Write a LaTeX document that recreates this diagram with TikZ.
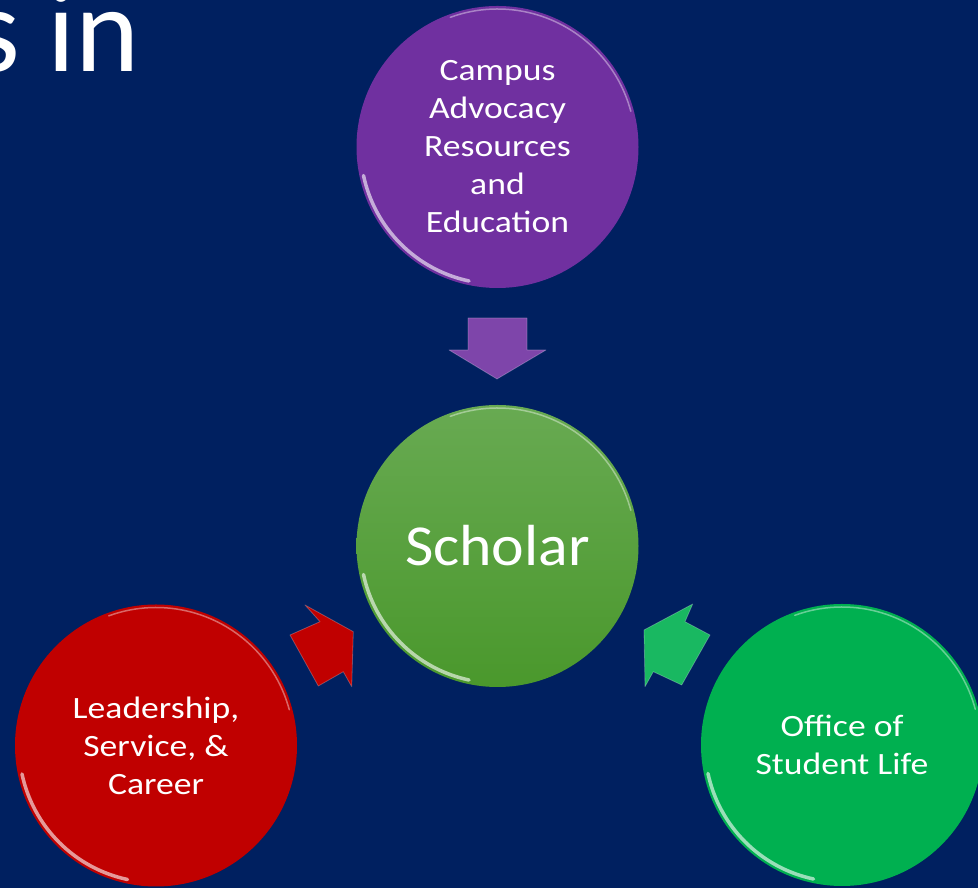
\documentclass[tikz,border=0pt]{standalone}
\usepackage{fontspec}
\setmainfont{Carlito}
\newfontfamily\labelfamily{Carlito}[FakeStretch=1.15]
\newfontfamily\scholarfamily{Carlito}[FakeStretch=1.065]
\usetikzlibrary{
	positioning				% relative placement
	, calc					% rim arcs round the circles
	, backgrounds
}

\definecolor{slidebg}{RGB}{0,32,96}
\definecolor{advocacy}{RGB}{112,48,160}
\definecolor{leadership}{RGB}{192,0,0}
\definecolor{studentlife}{RGB}{0,176,80}
\definecolor{scholartop}{RGB}{104,170,82}
\definecolor{scholarbot}{RGB}{74,152,44}

\begin{document}
\begin{tikzpicture}[
		x=1pt, y=1pt
		, bubble/.style={circle, minimum size=282pt, inner sep=0pt, text=white, align=center,
			font=\labelfamily\fontsize{31}{38}\selectfont}
		, rim/.style={line width=3.5pt, white, opacity=0.6, line cap=round}
		, thinrim/.style={line width=1.5pt, white, opacity=0.4, line cap=round}
		, blockarrow/.style={draw=white, draw opacity=0.25, line width=0.8pt, line join=round}
	]
	
	% Slide background and the cut title
	\useasboundingbox (0,0) rectangle (978,888);
	\fill[slidebg] (0,0) rectangle (978,888);
	\clip (0,0) rectangle (978,888);
	\node[anchor=base east, inner sep=0pt, text=white, font=\fontsize{122}{130}\selectfont] (title) at (140,816) {s in};
	
	% Draw the central scholar circle
	\node[bubble, top color=scholartop, bottom color=scholarbot, font=\scholarfamily\fontsize{58}{64}\selectfont] (scholar) at (497.5,342) {Scholar};
	
	% Draw the three offices around it
	\node[bubble, fill=advocacy] (advocacy) at (497.5,741) {Campus\\Advocacy\\Resources\\and\\Education};
	\node[bubble, fill=leadership] (leadership) at (156,142.5) {Leadership,\\Service, \&\\Career};
	\node[bubble, fill=studentlife] (studentlife) at (842,143) {Office of\\Student Life};
	
	% Glossy rims on every circle
	\foreach \bubblename in {scholar,advocacy,leadership,studentlife} {
		\draw[rim] ($(\bubblename.center)+(192:137)$) arc[start angle=192, end angle=258, radius=137];
		\draw[thinrim] ($(\bubblename.center)+(15:138)$) arc[start angle=15, end angle=110, radius=138];
	};
	
	% Block arrows pointing in to the scholar
	\fill[advocacy!90!white, blockarrow] (468,570) -- (527,570) -- (527,538) -- (546,538)
		-- (497,509) -- (449,538) -- (468,538) -- cycle;
	\fill[leadership, blockarrow] (305,283) -- (353.3,256.3) -- (351.7,201.3) -- (343.3,216.3)
		-- (318.3,202) -- (290,253) -- (320,266.3) -- cycle;
	\fill[studentlife!90!white, blockarrow] (692.7,284) -- (685,266.3) -- (710,253) -- (681.7,203)
		-- (653.3,216.3) -- (645,201.3) -- (644,258) -- cycle;
	\end{tikzpicture}
\end{document}
